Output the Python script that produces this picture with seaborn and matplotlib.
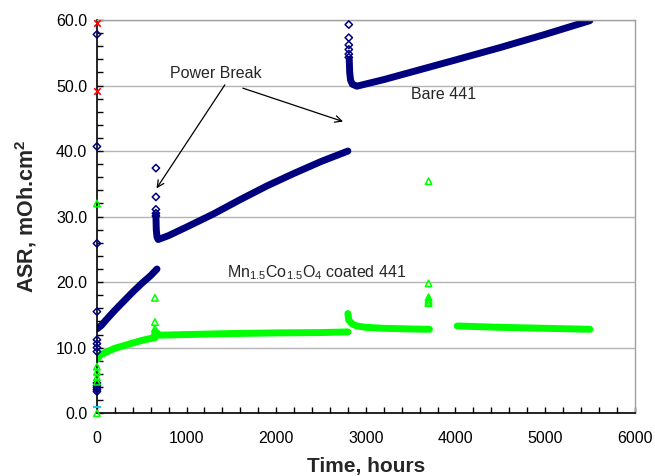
import numpy as np
import pandas as pd
import matplotlib
matplotlib.use("Agg")
import matplotlib.pyplot as plt
import seaborn as sns
from matplotlib.ticker import MultipleLocator, FormatStrFormatter

# ---------------- data ----------------
# Bare 441 : dense measurement band, three segments separated by power breaks
bare_seg1_t = [5, 50, 100, 200, 300, 400, 500, 600, 670]
bare_seg1_v = [12.9, 13.4, 14.2, 15.7, 17.1, 18.5, 19.8, 21.0, 22.0]
bare_seg2_t = [658, 662, 670, 683, 800, 1000, 1300, 1600, 1900, 2200, 2500, 2800]
bare_seg2_v = [30.2, 28.0, 26.9, 26.5, 27.1, 28.4, 30.4, 32.6, 34.7, 36.6, 38.4, 40.0]
bare_seg3_t = [2815, 2820, 2830, 2850, 2900, 3200, 3600, 4000, 4500, 5000, 5500]
bare_seg3_v = [54.0, 52.0, 50.8, 50.2, 49.9, 50.9, 52.4, 53.9, 55.8, 57.8, 59.9]
# Bare 441 : isolated points (start-up and power-break spikes)
bare_pts_t = [0, 0, 0, 0, 0, 0, 0, 0, 0, 0, 0, 0, 0,
              658, 658, 658, 658, 658,
              2810, 2810, 2810, 2810, 2810, 2810]
bare_pts_v = [57.8, 40.7, 25.9, 15.5, 11.2, 10.6, 10.0, 9.4, 4.6, 4.2, 3.9, 3.6, 3.3,
              37.4, 33.0, 31.1, 30.5, 30.1,
              59.3, 57.3, 56.2, 55.5, 54.8, 54.3]

# Mn1.5Co1.5O4 coated 441 : dense band, four segments
coat_seg1_t = [10, 30, 100, 200, 300, 400, 500, 600, 650]
coat_seg1_v = [8.3, 8.8, 9.3, 9.9, 10.3, 10.7, 11.1, 11.4, 11.5]
coat_seg2_t = [655, 700, 1000, 1500, 2000, 2500, 2800]
coat_seg2_v = [12.4, 11.9, 12.0, 12.15, 12.25, 12.3, 12.4]
coat_seg3_t = [2800, 2810, 2850, 2900, 3000, 3200, 3500, 3710]
coat_seg3_v = [15.2, 14.2, 13.6, 13.3, 13.1, 12.95, 12.85, 12.8]
coat_seg4_t = [4020, 4500, 5000, 5500]
coat_seg4_v = [13.3, 13.1, 12.95, 12.8]
# coated : isolated points
coat_pts_t = [0, 0, 0, 0, 0, 0,
              647, 647, 647, 647,
              3700, 3700, 3700, 3700, 3700, 3700]
coat_pts_v = [32.0, 7.1, 6.3, 5.5, 4.8, 0.0,
              17.6, 13.9, 12.9, 12.5,
              35.4, 19.8, 17.7, 17.3, 17.0, 16.8]

# other start-up readings at t = 0
red_t = [0, 0]
red_v = [59.5, 49.2]
cyan_t = [0]
cyan_v = [0.9]

x_ticks = [0, 1000, 2000, 3000, 4000, 5000, 6000]
y_ticks = [0, 10, 20, 30, 40, 50, 60]

# ---------------- build tables ----------------
def seg_frame(pairs):
    rows = []
    for i, (t, v) in enumerate(pairs):
        rows.append(pd.DataFrame({"t": t, "asr": v, "seg": i}))
    return pd.concat(rows, ignore_index=True)

bare_df = seg_frame([(bare_seg1_t, bare_seg1_v), (bare_seg2_t, bare_seg2_v),
                     (bare_seg3_t, bare_seg3_v)])
coat_df = seg_frame([(coat_seg1_t, coat_seg1_v), (coat_seg2_t, coat_seg2_v),
                     (coat_seg3_t, coat_seg3_v), (coat_seg4_t, coat_seg4_v)])

# ---------------- style ----------------
sns.set_theme(style="white")
plt.rcParams["font.family"] = ["Liberation Sans", "DejaVu Sans"]
plt.rcParams["mathtext.default"] = "regular"

NAVY = "#00007F"
LIME = "#00FF00"

fig = plt.figure(figsize=(6.55, 4.76), dpi=100)
ax = fig.add_axes([0.148, 0.132, 0.821, 0.826])

ax.yaxis.grid(True, color="#b4b4b4", lw=1.0)
ax.set_axisbelow(True)

sns.lineplot(data=bare_df, x="t", y="asr", units="seg", estimator=None, sort=False,
             color=NAVY, lw=5.0, solid_capstyle="round", solid_joinstyle="round",
             ax=ax, legend=False)
sns.lineplot(data=coat_df, x="t", y="asr", units="seg", estimator=None, sort=False,
             color=LIME, lw=5.0, solid_capstyle="round", solid_joinstyle="round",
             ax=ax, legend=False)

sns.scatterplot(x=bare_pts_t, y=bare_pts_v, marker="D", s=14, facecolor="none",
                edgecolor=NAVY, linewidth=1.1, ax=ax, zorder=4, clip_on=False)
sns.scatterplot(x=coat_pts_t, y=coat_pts_v, marker="^", s=22, facecolor="none",
                edgecolor=LIME, linewidth=1.1, ax=ax, zorder=4, clip_on=False)
sns.scatterplot(x=red_t, y=red_v, marker="x", s=22, color="red", linewidth=1.2,
                ax=ax, zorder=5, clip_on=False)
sns.scatterplot(x=cyan_t, y=cyan_v, marker="_", s=30, color="#20c8e8", linewidth=1.5,
                ax=ax, zorder=5, clip_on=False)

ax.set_xlim(0, 6000)
ax.set_ylim(0, 60)
ax.set_xticks(x_ticks)
ax.set_yticks(y_ticks)
ax.xaxis.set_minor_locator(MultipleLocator(200))
ax.yaxis.set_minor_locator(MultipleLocator(2))
ax.yaxis.set_major_formatter(FormatStrFormatter("%.1f"))

ax.tick_params(axis="both", which="both", direction="in", colors="black",
               labelsize=11.5, bottom=True, left=True, top=False, right=False)
ax.tick_params(axis="x", which="both", length=4, width=1, pad=13)
ax.tick_params(axis="y", which="both", length=4.5, width=1, pad=7)

for side in ("left", "bottom"):
    ax.spines[side].set_color("black")
    ax.spines[side].set_linewidth(1.2)
for side in ("top", "right"):
    ax.spines[side].set_color("#a0a0a0")
    ax.spines[side].set_linewidth(1.0)

ax.set_xlabel("Time, hours", fontsize=15, fontweight="bold", labelpad=8)
ax.set_ylabel("ASR, mOh.cm$^2$", fontsize=15.5, fontweight="bold", labelpad=12)

ax.text(814, 51.9, "Power Break", fontsize=11.5, va="center", ha="left")
ax.text(3500, 48.7, "Bare 441", fontsize=11.5, va="center", ha="left")
ax.text(1449, 21.5, "Mn$_{1.5}$Co$_{1.5}$O$_4$ coated 441", fontsize=11.5,
        va="center", ha="left")

arrow = dict(arrowstyle="->", color="black", lw=0.9, mutation_scale=12,
             shrinkA=0, shrinkB=0)
ax.annotate("", xy=(665, 34.3), xytext=(1427, 50.1), arrowprops=arrow)
ax.annotate("", xy=(2746, 44.5), xytext=(1628, 49.6), arrowprops=arrow)

fig.savefig("out.png", dpi=100)
